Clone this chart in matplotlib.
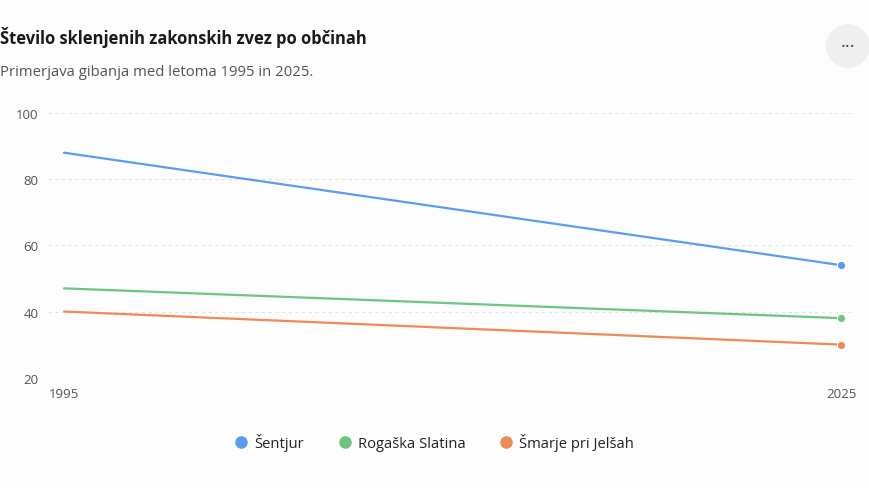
import matplotlib.pyplot as plt
from matplotlib.lines import Line2D
from matplotlib.patches import Circle

# Data
years = [1995, 2025]
sentjur = [88, 54]
rogaska = [47, 38]
smarje = [40, 30]
series_names = ["Šentjur", "Rogaška Slatina", "Šmarje pri Jelšah"]
series_colors = ["#5b9cf0", "#6dc57f", "#ec8b57"]
y_ticks = [20, 40, 60, 80, 100]

plt.rcParams["font.family"] = ["Open Sans", "DejaVu Sans"]

fig = plt.figure(figsize=(8.69, 4.89), dpi=100, facecolor="#fdfdfd")
ax = fig.add_axes([48 / 869, 1 - 378.7 / 489, (855 - 48) / 869, (378.7 - 114) / 489])
ax.set_facecolor("#fdfdfd")

for vals, name, col in zip([sentjur, rogaska, smarje], series_names, series_colors):
    ax.plot(years, vals, color=col, linewidth=1.6, solid_capstyle="round", zorder=3)
    ax.plot(years[-1:], vals[-1:], "o", color=col, markersize=6,
            markeredgecolor="white", markeredgewidth=0.8, zorder=4)

ax.set_xlim(1994.38, 2025.54)
ax.set_ylim(20, 100)
ax.set_yticks(y_ticks)
ax.set_xticks(years)
ax.grid(axis="y", color="#e4e4e4", linestyle=(0, (3, 3)), linewidth=0.8)
ax.set_axisbelow(True)
for s in ax.spines.values():
    s.set_visible(False)
ax.tick_params(length=0, colors="#555555", labelsize=9.5)
ax.tick_params(axis="y", pad=7)
ax.tick_params(axis="x", pad=7)

# Title and subtitle
fig.text(0.0, 1 - 38 / 489, "Število sklenjenih zakonskih zvez po občinah",
         fontsize=11.9, fontweight="bold", color="#1a1a1a", va="center", ha="left")
fig.text(0.0, 1 - 72 / 489, "Primerjava gibanja med letoma 1995 in 2025.",
         fontsize=10.7, color="#555555", va="center", ha="left")

# Menu button
fig.patches.append(Circle((848, 489 - 47), 22, transform=None,
                          facecolor="#efefef", edgecolor="none"))
fig.text(848 / 869, 1 - 47 / 489, "···", fontsize=13, color="#444444",
         ha="center", va="center")

# Legend
handles = [Line2D([], [], linestyle="none", marker="o", markersize=8,
                  markerfacecolor=c, markeredgecolor=c) for c in series_colors]
fig.legend(handles, series_names, loc="center", bbox_to_anchor=(0.5, 1 - 443 / 489),
           ncol=3, frameon=False, fontsize=10.6, handlelength=0.9, handletextpad=0.45,
           columnspacing=2.3, labelcolor="#222222")

fig.savefig("out.png", dpi=100, facecolor=fig.get_facecolor())
